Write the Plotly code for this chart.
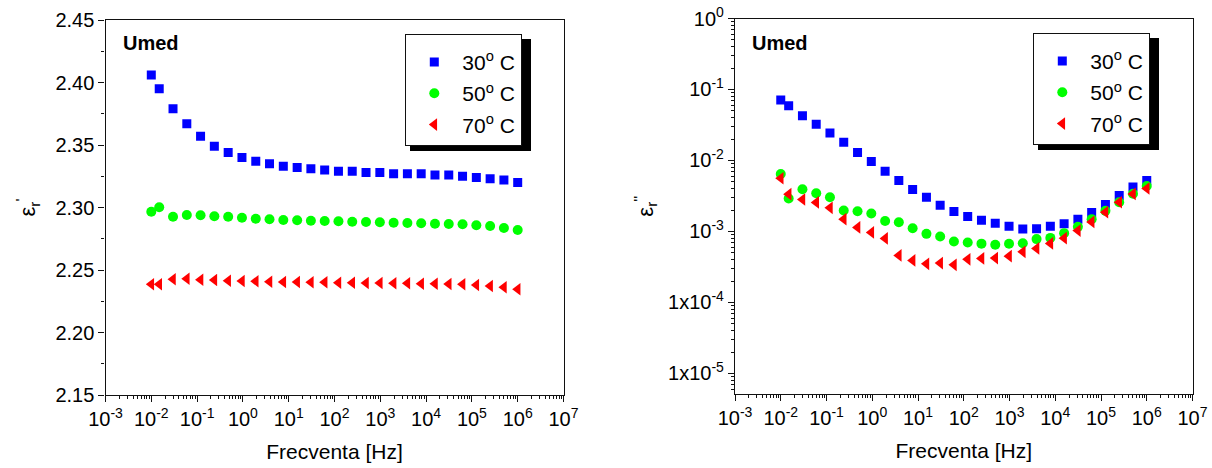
import plotly.graph_objects as go

# ---------------- data ----------------
freq = [0.01, 0.0149, 0.0298, 0.0596, 0.119, 0.238, 0.477, 0.954, 1.91, 3.81,
        7.63, 15.3, 30.5, 61.0, 122, 244, 488, 977, 1953, 3906,
        7813, 15625, 31250, 62500, 125000, 250000, 500000, 1000000]

eps_re_30 = [2.406, 2.395, 2.379, 2.367, 2.357, 2.349, 2.344, 2.340, 2.337, 2.335,
             2.333, 2.332, 2.331, 2.330, 2.329, 2.329, 2.328, 2.328, 2.327, 2.327,
             2.327, 2.326, 2.326, 2.325, 2.324, 2.323, 2.322, 2.320]
eps_re_50 = [2.2966, 2.3002, 2.2926, 2.2940, 2.2938, 2.2930, 2.2926, 2.2918, 2.2910, 2.2906,
             2.2900, 2.2898, 2.2894, 2.2892, 2.2890, 2.2886, 2.2884, 2.2882, 2.2878, 2.2876,
             2.2874, 2.2870, 2.2868, 2.2866, 2.2858, 2.2852, 2.2836, 2.2820]
eps_re_70 = [2.2386, 2.2386, 2.2426, 2.2430, 2.2422, 2.2420, 2.2414, 2.2412, 2.2410, 2.2406,
             2.2404, 2.2404, 2.2402, 2.2402, 2.2398, 2.2398, 2.2396, 2.2396, 2.2394, 2.2394,
             2.2390, 2.2390, 2.2388, 2.2386, 2.2380, 2.2372, 2.2362, 2.2346]

eps_im_30 = [0.0710, 0.0592, 0.0428, 0.0323, 0.0244, 0.0180, 0.0130, 0.00965, 0.00705, 0.00521,
             0.00390, 0.00304, 0.00234, 0.00191, 0.00163, 0.00144, 0.00130, 0.00118, 0.00108, 0.00109,
             0.00118, 0.00128, 0.00149, 0.00185, 0.00240, 0.00321, 0.00424, 0.00521]
eps_im_50 = [0.00646, 0.00291, 0.00394, 0.00346, 0.00304, 0.00197, 0.00193, 0.00179, 0.00140, 0.00135,
             0.00111, 0.000925, 0.000851, 0.000723, 0.000700, 0.000673, 0.000648, 0.000670, 0.000681, 0.000780,
             0.000811, 0.000946, 0.00116, 0.00149, 0.00195, 0.00258, 0.00340, 0.00437]
eps_im_70 = [0.00562, 0.00335, 0.00282, 0.00256, 0.00215, 0.00149, 0.00114, 0.000968, 0.000797, 0.000460,
             0.000391, 0.000350, 0.000358, 0.000339, 0.000405, 0.000417, 0.000421, 0.000449, 0.000517, 0.000577,
             0.000678, 0.000805, 0.00103, 0.00136, 0.00187, 0.00258, 0.00338, 0.00403]

series_names = ["30<sup>o</sup> C", "50<sup>o</sup> C", "70<sup>o</sup> C"]

x_tickvals = [1e-3, 1e-2, 1e-1, 1e0, 1e1, 1e2, 1e3, 1e4, 1e5, 1e6, 1e7]
x_ticktext = ["10<sup>-3</sup>", "10<sup>-2</sup>", "10<sup>-1</sup>", "10<sup>0</sup>",
              "10<sup>1</sup>", "10<sup>2</sup>", "10<sup>3</sup>", "10<sup>4</sup>",
              "10<sup>5</sup>", "10<sup>6</sup>", "10<sup>7</sup>"]
y2_tickvals = [1e0, 1e-1, 1e-2, 1e-3, 1e-4, 1e-5]
y2_ticktext = ["10<sup>0</sup>", "10<sup>-1</sup>", "10<sup>-2</sup>", "10<sup>-3</sup>",
               "1x10<sup>-4</sup>", "1x10<sup>-5</sup>"]

# ---------------- styles ----------------
FONT = "Liberation Sans, Arial, sans-serif"
W, H = 1212, 468
styles = [
    dict(symbol="square", size=9, color="#0000FF"),
    dict(symbol="circle", size=10, color="#00FF00"),
    dict(symbol="triangle-left", size=11, color="#FF0000"),
]

fig = go.Figure()

for i, (name, ys, st) in enumerate(zip(series_names, [eps_re_30, eps_re_50, eps_re_70], styles)):
    fig.add_trace(go.Scatter(x=freq, y=ys, mode="markers", name=name,
                             legendgroup="a%d" % i,
                             marker=dict(symbol=st["symbol"], size=st["size"], color=st["color"],
                                         line=dict(width=0)),
                             xaxis="x", yaxis="y", legend="legend"))
for i, (name, ys, st) in enumerate(zip(series_names, [eps_im_30, eps_im_50, eps_im_70], styles)):
    fig.add_trace(go.Scatter(x=freq, y=ys, mode="markers", name=name,
                             legendgroup="b%d" % i,
                             marker=dict(symbol=st["symbol"], size=st["size"], color=st["color"],
                                         line=dict(width=0)),
                             xaxis="x2", yaxis="y2", legend="legend2"))

def px_x(p):
    return p / W

def px_y(p):
    return 1 - p / H

axis_common = dict(showline=True, linecolor="#111", linewidth=1.3, mirror=True,
                   showgrid=False, zeroline=False, ticks="outside", tickcolor="#111",
                   tickwidth=1.2, ticklen=6, automargin=False, ticklabeloverflow="allow",
                   tickfont=dict(family=FONT, size=20, color="black"))

xaxis_common = dict(axis_common, type="log", range=[-3, 7], tickmode="array",
                    tickvals=x_tickvals, ticktext=x_ticktext,
                    minor=dict(ticks="outside", ticklen=3, tickcolor="#111", dtick="D1",
                               showgrid=False),
                    title=dict(text="Frecventa [Hz]", font=dict(family=FONT, size=21, color="black"),
                               standoff=15))

legend_common = dict(xanchor="left", yanchor="top", bgcolor="white", bordercolor="#111",
                     borderwidth=1.3, font=dict(family=FONT, size=21, color="black"),
                     itemwidth=46, tracegroupgap=1,
                     title=dict(text=" ", font=dict(size=5)))

fig.update_layout(
    width=W, height=H,
    margin=dict(l=0, r=0, t=0, b=0, autoexpand=False),
    paper_bgcolor="white", plot_bgcolor="white",
    font=dict(family=FONT, color="black"),
    xaxis=dict(xaxis_common, domain=[px_x(105.5), px_x(563.5)], anchor="y"),
    yaxis=dict(axis_common, domain=[px_y(395), px_y(20)], anchor="x",
               range=[2.15, 2.45], dtick=0.05, tick0=2.15, tickformat=".2f",
               minor=dict(ticks="outside", ticklen=3, tickcolor="#111", dtick=0.025,
                          showgrid=False),
               title=dict(text="ε<sub>r</sub><sup>'</sup>",
                          font=dict(family=FONT, size=22, color="black"), standoff=13)),
    xaxis2=dict(xaxis_common, domain=[px_x(735), px_x(1192.5)], anchor="y2"),
    yaxis2=dict(axis_common, domain=[px_y(394), px_y(18.5)], anchor="x2",
                type="log", range=[-5.29, 0], tickmode="array",
                tickvals=y2_tickvals, ticktext=y2_ticktext,
                minor=dict(ticks="outside", ticklen=3, tickcolor="#111", dtick="D1",
                           showgrid=False),
                title=dict(text="ε<sub>r</sub><sup>''</sup>",
                           font=dict(family=FONT, size=22, color="black"), standoff=8)),
    legend=dict(legend_common, x=px_x(405), y=px_y(34)),
    legend2=dict(legend_common, x=px_x(1033), y=px_y(33)),
    showlegend=True,
)

# legend drop shadows (offset behind each legend box)
for (x0, y0, x1, y1) in [(410, 39, 531, 151), (1038, 38, 1159, 150)]:
    fig.add_shape(type="rect", xref="paper", yref="paper",
                  x0=px_x(x0), x1=px_x(x1), y0=px_y(y1), y1=px_y(y0),
                  fillcolor="black", line=dict(width=0), layer="above")

# panel labels
for x in (120.5, 750):
    fig.add_annotation(text="<b>Umed</b>", xref="paper", yref="paper",
                       x=px_x(x), y=px_y(43), xanchor="left", yanchor="middle",
                       showarrow=False, font=dict(family=FONT, size=20, color="black"))

# remove the page's default 8px body margin so the figure fills the window exactly
page_fix = ("document.body.style.margin='0';document.body.style.overflow='hidden';"
            "document.documentElement.style.overflow='hidden';")
fig.write_html("out.html", post_script=page_fix, config={"displayModeBar": False})
